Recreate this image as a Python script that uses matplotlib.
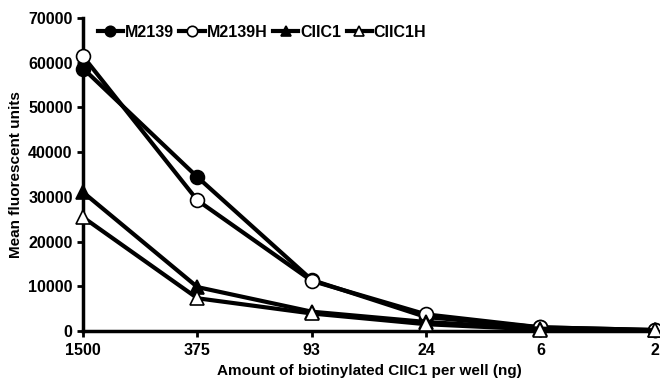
import matplotlib
matplotlib.use('Agg')
import matplotlib.pyplot as plt

amounts = ["1500", "375", "93", "24", "6", "2"]
m2139 = [58700, 34400, 11400, 3100, 800, 200]
m2139h = [61400, 29200, 11200, 3700, 800, 200]
ciic1 = [31000, 9800, 4300, 2000, 500, 100]
ciic1h = [25400, 7300, 3900, 1500, 300, 100]

plt.rcParams['font.family'] = ['Liberation Sans', 'DejaVu Sans']
plt.rcParams['font.weight'] = 'bold'

fig = plt.figure(figsize=(6.6, 3.83), dpi=100)
ax = fig.add_axes([0.126, 0.136, 0.866, 0.817])

x = range(len(amounts))
series = [
    (m2139, "M2139", "o", "black"),
    (m2139h, "M2139H", "o", "white"),
    (ciic1, "CIIC1", "^", "black"),
    (ciic1h, "CIIC1H", "^", "white"),
]
for vals, name, mk, fc in series:
    ax.plot(x, vals, color="black", lw=3, marker=mk, ms=10,
            mfc=fc, mec="black", mew=1.2, label=name, clip_on=False, zorder=3)

ax.set_xlim(0, 5)
ax.set_ylim(0, 70000)
ax.set_yticks(range(0, 70001, 10000))
ax.set_xticks(list(x))
ax.set_xticklabels(amounts)
for s in ["top", "right"]:
    ax.spines[s].set_visible(False)
for s in ["left", "bottom"]:
    ax.spines[s].set_linewidth(2.5)
ax.tick_params(axis="both", width=2, length=4, labelsize=11.5)
ax.tick_params(axis="x", pad=5)

ax.set_xlabel("Amount of biotinylated CIIC1 per well (ng)", fontsize=11, fontweight="bold")
ax.set_ylabel("Mean fluorescent units", fontsize=11, fontweight="bold")

leg = ax.legend(loc="upper left", ncol=4, frameon=False, bbox_to_anchor=(0.0, 1.025),
                handlelength=1.6, handletextpad=0.1, columnspacing=0.35,
                prop={"weight": "bold", "size": 11.5}, markerscale=0.75)

fig.savefig("out.png", dpi=100)
